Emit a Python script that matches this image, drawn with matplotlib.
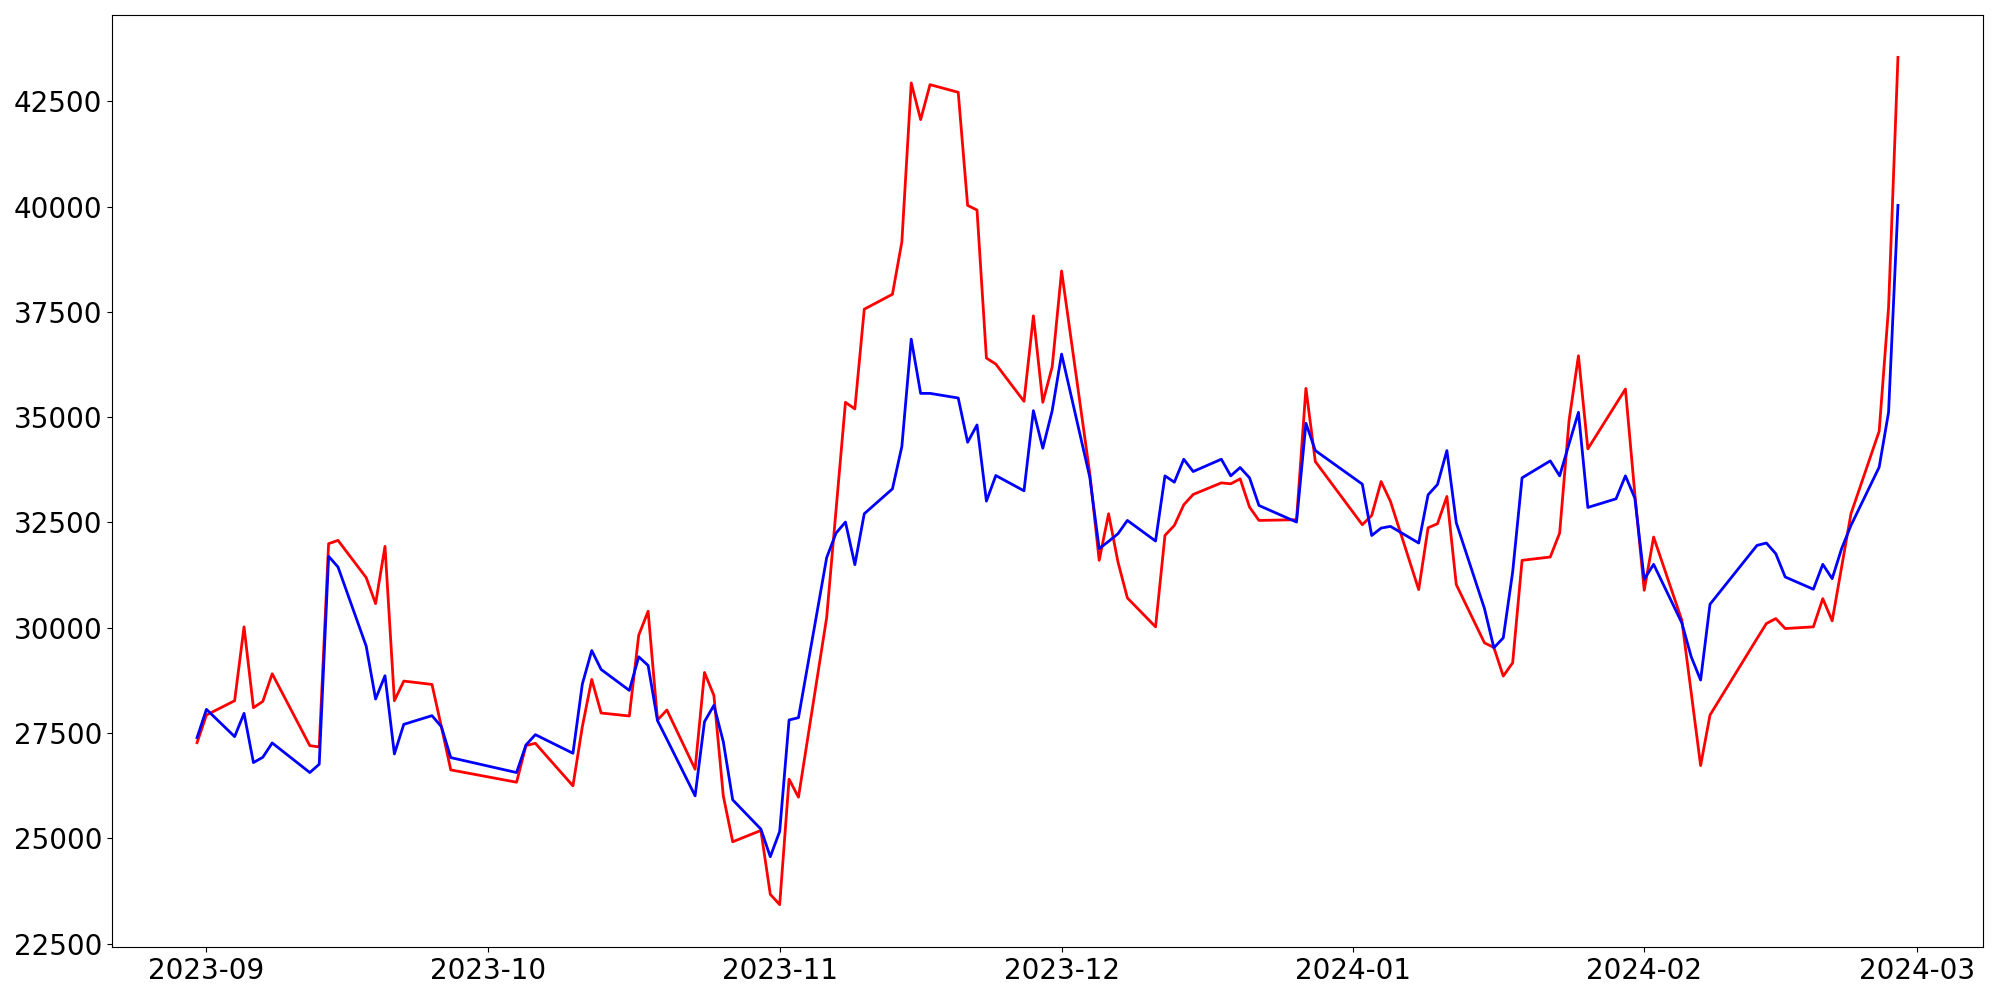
import matplotlib
matplotlib.use("Agg")
import matplotlib.pyplot as plt
import pandas as pd

dates = [
    "2023-08-31",
    "2023-09-01", "2023-09-04", "2023-09-05", "2023-09-06", "2023-09-07", "2023-09-08",
    "2023-09-12", "2023-09-13", "2023-09-14", "2023-09-15", "2023-09-18", "2023-09-19",
    "2023-09-20", "2023-09-21", "2023-09-22", "2023-09-25", "2023-09-26", "2023-09-27",
    "2023-10-04", "2023-10-05", "2023-10-06", "2023-10-10", "2023-10-11", "2023-10-12",
    "2023-10-13", "2023-10-16", "2023-10-17", "2023-10-18", "2023-10-19", "2023-10-20",
    "2023-10-23", "2023-10-24", "2023-10-25", "2023-10-26", "2023-10-27", "2023-10-30",
    "2023-10-31",
    "2023-11-01", "2023-11-02", "2023-11-03", "2023-11-06", "2023-11-07", "2023-11-08",
    "2023-11-09", "2023-11-10", "2023-11-13", "2023-11-14", "2023-11-15", "2023-11-16",
    "2023-11-17", "2023-11-20", "2023-11-21", "2023-11-22", "2023-11-23", "2023-11-24",
    "2023-11-27", "2023-11-28", "2023-11-29", "2023-11-30",
    "2023-12-01", "2023-12-04", "2023-12-05", "2023-12-06", "2023-12-07", "2023-12-08",
    "2023-12-11", "2023-12-12", "2023-12-13", "2023-12-14", "2023-12-15", "2023-12-18",
    "2023-12-19", "2023-12-20", "2023-12-21", "2023-12-22", "2023-12-26", "2023-12-27",
    "2023-12-28",
    "2024-01-02", "2024-01-03", "2024-01-04", "2024-01-05", "2024-01-08", "2024-01-09",
    "2024-01-10", "2024-01-11", "2024-01-12", "2024-01-15", "2024-01-16", "2024-01-17",
    "2024-01-18", "2024-01-19", "2024-01-22", "2024-01-23", "2024-01-24", "2024-01-25",
    "2024-01-26", "2024-01-29", "2024-01-30", "2024-01-31",
    "2024-02-01", "2024-02-02", "2024-02-05", "2024-02-06", "2024-02-07", "2024-02-08",
    "2024-02-13", "2024-02-14", "2024-02-15", "2024-02-16", "2024-02-19", "2024-02-20",
    "2024-02-21", "2024-02-22", "2024-02-23", "2024-02-26", "2024-02-27", "2024-02-28",
]

red_values = [
    27271,
    27927, 28267, 30021, 28101, 28251, 28907,
    27200, 27169, 31996, 32075, 31190, 30573,
    31933, 28267, 28733, 28654, 27651, 26624,
    26331, 27201, 27256, 26245, 27651, 28772,
    27975, 27904, 29823, 30392, 27809, 28046,
    26640, 28938, 28393, 26008, 24917, 25186,
    23669,
    23424, 26402, 25976, 30242, 32800, 35353,
    35196, 37565, 37920, 39161, 42938, 42068,
    42898, 42716, 40030, 39920, 36404, 36261,
    35377, 37407, 35353, 36199,
    38474, 33663, 31601, 32707, 31561, 30708,
    30021, 32193, 32430, 32920, 33165, 33441,
    33418, 33536, 32865, 32549, 32565, 35685,
    33947,
    32446, 32667, 33473, 32999, 30905, 32375,
    32470, 33118, 31024, 29641, 29531, 28852,
    29168, 31601, 31680, 32249, 34919, 36459,
    34248, 35314, 35669, 33181,
    30890, 32154, 30179, 28457, 26726, 27927,
    29742, 30100, 30218, 29981, 30021, 30692,
    30163, 31435, 32707, 34666, 37604, 43546,
]

blue_values = [
    27390,
    28062, 27414, 27967, 26798, 26924, 27264,
    26561, 26758, 31696, 31443, 29563, 28307,
    28860, 27003, 27706, 27912, 27651, 26916,
    26561, 27216, 27461, 27019, 28662, 29460,
    29009, 28512, 29310, 29104, 27793, 27351,
    26008, 27770, 28157, 27295, 25913, 25218,
    24562,
    25162, 27809, 27864, 31665, 32249, 32510,
    31498, 32707, 33299, 34303, 36854, 35566,
    35566, 35456, 34405, 34816, 33007, 33615,
    33252, 35156, 34263, 35156,
    36499, 33575, 31878, 32051, 32233, 32549,
    32059, 33607, 33457, 34002, 33710, 34002,
    33607, 33805, 33560, 32904, 32510, 34856,
    34208,
    33410, 32190, 32367, 32407, 32012, 33157,
    33402, 34208, 32493, 30455, 29523, 29760,
    31324, 33560, 33963, 33607, 34366, 35116,
    32857, 33062, 33607, 33078,
    31151, 31506, 30116, 29310, 28757, 30558,
    31956, 32012, 31759, 31206, 30914, 31506,
    31166, 31877, 32430, 33813, 35116, 40031,
]

x = pd.to_datetime(dates)

fig, ax = plt.subplots(figsize=(20, 10), dpi=100)
fig.subplots_adjust(left=0.056, right=0.9915, top=0.985, bottom=0.053)

ax.plot(x, red_values, color="red", linewidth=2)
ax.plot(x, blue_values, color="blue", linewidth=2)

ax.tick_params(axis="both", labelsize=20)

fig.savefig("out.png", dpi=100)
